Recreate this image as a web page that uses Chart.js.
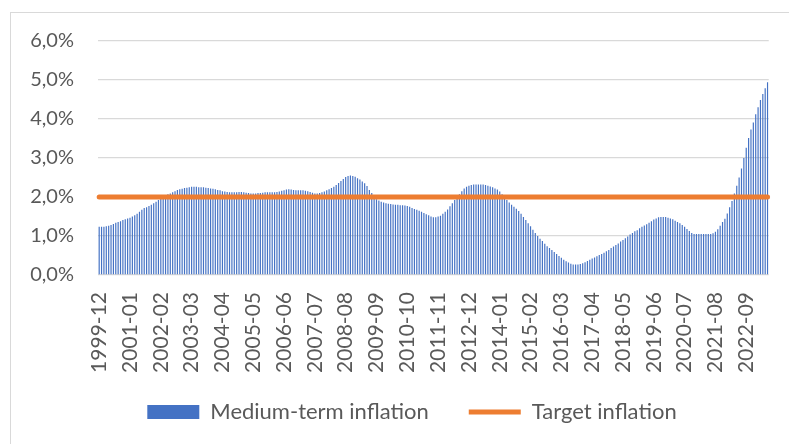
<!DOCTYPE html>
<html lang="en">
<head>
    <meta charset="UTF-8">
    <title>Medium-term inflation</title>
    <script src="https://cdn.jsdelivr.net/npm/chart.js"></script>
    <style>
        body { margin: 0; background: #fff; overflow: hidden; }
        #wrap { position: relative; width: 789px; height: 444px; }
        #frame { position: absolute; left: 10px; top: 12px; width: 800px; height: 460px;
                 border: 1.5px solid #d9d9d9; box-sizing: border-box; }
        canvas { position: absolute; left: 0; top: 0; }
    </style>
</head>
<body>
<div id="wrap">
    <div id="frame"></div>
    <canvas id="inflationChart" width="789" height="444"></canvas>
</div>

<script>
    // months from 1999-12 to 2023-06
    var firstMonth = [1999, 12];
    var lastMonth = [2023, 6];
    var months = [];
    for (var y = firstMonth[0], m = firstMonth[1]; y < lastMonth[0] || (y === lastMonth[0] && m <= lastMonth[1]); ) {
        months.push(y + '-' + (m < 10 ? '0' + m : m));
        m++;
        if (m > 12) { m = 1; y++; }
    }

    // medium-term inflation, % (one value per month)
    var mediumTerm = [
        1.24, 1.24, 1.24, 1.25, 1.26, 1.28, 1.31, 1.34, 1.36, 1.38, 1.41, 1.43, 1.45, 1.47, 1.50, 1.53,
        1.57, 1.62, 1.67, 1.72, 1.74, 1.77, 1.80, 1.84, 1.88, 1.92, 1.96, 2.00, 2.03, 2.07, 2.09, 2.12,
        2.15, 2.18, 2.20, 2.21, 2.23, 2.24, 2.25, 2.26, 2.26, 2.26, 2.25, 2.25, 2.25, 2.24, 2.23, 2.22,
        2.21, 2.20, 2.18, 2.17, 2.15, 2.14, 2.13, 2.12, 2.12, 2.12, 2.12, 2.13, 2.13, 2.12, 2.11, 2.10,
        2.09, 2.09, 2.09, 2.10, 2.10, 2.11, 2.12, 2.12, 2.12, 2.12, 2.12, 2.13, 2.14, 2.16, 2.17, 2.19,
        2.20, 2.19, 2.18, 2.17, 2.17, 2.17, 2.17, 2.16, 2.15, 2.13, 2.11, 2.09, 2.09, 2.10, 2.12, 2.14,
        2.17, 2.20, 2.23, 2.26, 2.31, 2.36, 2.41, 2.46, 2.51, 2.54, 2.55, 2.54, 2.52, 2.48, 2.45, 2.40,
        2.35, 2.28, 2.18, 2.10, 2.02, 1.94, 1.91, 1.88, 1.86, 1.84, 1.83, 1.82, 1.81, 1.80, 1.80, 1.79,
        1.79, 1.78, 1.77, 1.75, 1.72, 1.69, 1.67, 1.65, 1.62, 1.59, 1.56, 1.53, 1.50, 1.48, 1.48, 1.50,
        1.52, 1.57, 1.62, 1.68, 1.76, 1.84, 1.92, 2.00, 2.07, 2.15, 2.22, 2.26, 2.29, 2.31, 2.32, 2.32,
        2.32, 2.32, 2.32, 2.31, 2.29, 2.27, 2.25, 2.22, 2.19, 2.14, 2.07, 2.00, 1.92, 1.86, 1.80, 1.75,
        1.70, 1.64, 1.57, 1.49, 1.41, 1.33, 1.25, 1.16, 1.08, 1.00, 0.93, 0.87, 0.80, 0.74, 0.69, 0.64,
        0.59, 0.54, 0.49, 0.44, 0.39, 0.35, 0.32, 0.29, 0.27, 0.27, 0.27, 0.28, 0.30, 0.33, 0.36, 0.39,
        0.42, 0.45, 0.48, 0.51, 0.54, 0.57, 0.61, 0.64, 0.69, 0.73, 0.77, 0.81, 0.86, 0.90, 0.94, 0.99,
        1.04, 1.08, 1.12, 1.15, 1.20, 1.24, 1.27, 1.30, 1.34, 1.38, 1.42, 1.45, 1.48, 1.49, 1.49, 1.49,
        1.47, 1.45, 1.43, 1.39, 1.36, 1.33, 1.28, 1.24, 1.18, 1.13, 1.08, 1.05, 1.05, 1.05, 1.05, 1.05,
        1.05, 1.05, 1.05, 1.07, 1.11, 1.17, 1.26, 1.36, 1.44, 1.58, 1.74, 1.90, 2.09, 2.29, 2.50, 2.73,
        3.00, 3.26, 3.51, 3.73, 3.91, 4.12, 4.30, 4.49, 4.64, 4.79, 4.94
    ];

    // target inflation, %
    var targetInflation = 2.0;
    var targetLine = months.map(function () { return targetInflation; });

    var yTicks = [0, 1, 2, 3, 4, 5, 6];
    var labelStep = 13;   // one label every 13 months, as in the original

    var grey = '#595959';
    var font = 'Lato, "Liberation Sans", sans-serif';

    // legend sits a bit right of centre and closer to the axis labels
    var legendShift = {
        id: 'legendShift',
        afterLayout: function (chart) {
            var lg = chart.legend;
            lg.left += 26; lg.right += 26;
            lg.top -= 31;
        }
    };

    var ctx = document.getElementById('inflationChart').getContext('2d');
    var chart = new Chart(ctx, {
        data: {
            labels: months,
            datasets: [{
                type: 'line',
                label: 'Target inflation',
                data: targetLine,
                borderColor: '#ed7d31',
                backgroundColor: '#ed7d31',
                borderWidth: 5,
                borderCapStyle: 'round',
                pointRadius: 0,
                pointStyle: 'line',
                tension: 0
            }, {
                type: 'bar',
                label: 'Medium-term inflation',
                data: mediumTerm,
                backgroundColor: '#4472c4',
                borderWidth: 0,
                pointStyle: 'rect',
                barPercentage: 1,
                categoryPercentage: 0.5
            }]
        },
        plugins: [legendShift],
        options: {
            responsive: false,
            animation: false,
            layout: { padding: { left: 0, right: 17, top: 41, bottom: 0 } },
            plugins: {
                tooltip: { enabled: false },
                legend: {
                    position: 'bottom',
                    reverse: true,
                    maxHeight: 52,
                    labels: {
                        usePointStyle: true,
                        pointStyleWidth: 52,
                        boxHeight: 14,
                        padding: 40,
                        color: grey,
                        font: { family: font, size: 22 }
                    }
                }
            },
            scales: {
                x: {
                    grid: { display: false, drawTicks: false },
                    border: { display: false },
                    ticks: {
                        autoSkip: false,
                        minRotation: 90,
                        maxRotation: 90,
                        padding: 17,
                        color: grey,
                        font: { family: font, size: 21 },
                        callback: function (value, index) {
                            return index % labelStep === 0 ? months[index] : null;
                        }
                    },
                    afterFit: function (scale) { scale.height = 117; }
                },
                y: {
                    min: yTicks[0],
                    max: yTicks[yTicks.length - 1],
                    afterBuildTicks: function (scale) {
                        scale.ticks = yTicks.map(function (v) { return { value: v }; });
                    },
                    grid: { color: '#d9d9d9', lineWidth: 1.3, drawTicks: false },
                    border: { display: false },
                    ticks: {
                        padding: 24,
                        color: grey,
                        font: { family: font, size: 20 },
                        callback: function (value) {
                            return value.toFixed(1).replace('.', ',') + '%';
                        }
                    },
                    afterFit: function (scale) { scale.width = 98; }
                }
            }
        }
    });
</script>
</body>
</html>
